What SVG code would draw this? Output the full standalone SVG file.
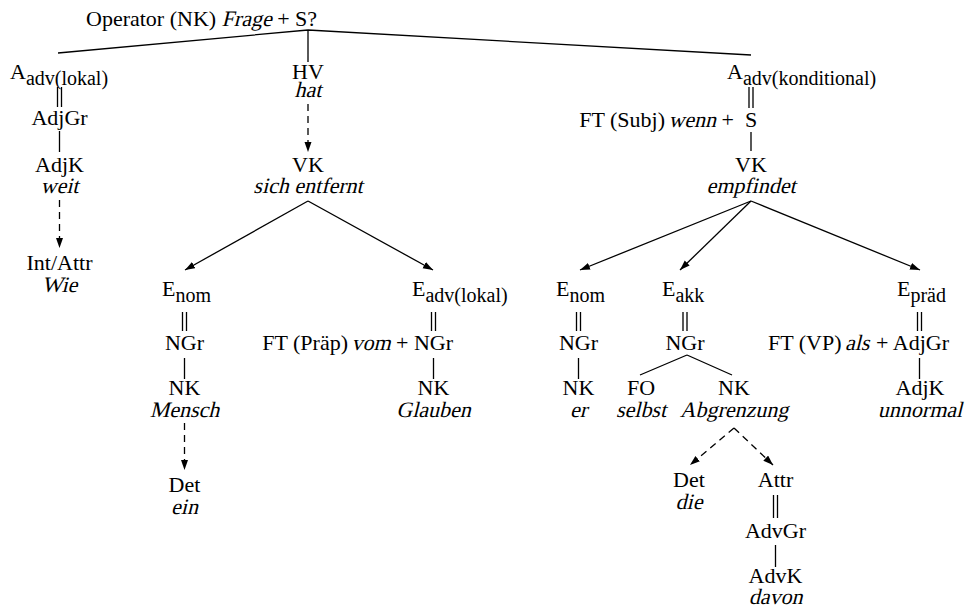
<svg xmlns="http://www.w3.org/2000/svg" width="968" height="609" viewBox="0 0 968 609">
  <style>
    text { font-family: "Liberation Serif", "Times New Roman", serif; font-size: 22px; fill: #000; }
    .c { text-anchor: middle; }
    .e { text-anchor: end; }
    .sub { font-size: 20px; }
    .ln { stroke: #000; stroke-width: 1.3; fill: none; }
    .ds { stroke: #000; stroke-width: 1.3; fill: none; stroke-dasharray: 7 5; }
    .ar { marker-end: url(#tip); }
  </style>
  <defs>
    <marker id="tip" markerUnits="userSpaceOnUse" markerWidth="11" markerHeight="8" refX="10" refY="3.5" orient="auto">
      <path d="M0,0 L10,3.5 L0,7 z" fill="#000"/>
    </marker>
  </defs>

  <!-- connectors -->
  <g id="connectors">
    <!-- root fan -->
    <path class="ln" d="M308,30 L58,53 M308,30 L751,55 M308,30 L308,62"/>
    <!-- left column -->
    <path class="ln" d="M57.5,87 V107 M61.5,87 V107 M59.5,131 V152"/>
    <path class="ds ar" d="M59.5,200 V248"/>
    <!-- HV / VK -->
    <path class="ds ar" d="M308,104 V152"/>
    <path class="ln ar" d="M308,201 L185,270"/>
    <path class="ln ar" d="M308,201 L433,270"/>
    <!-- E_nom (left) -->
    <path class="ln" d="M182.5,312 V331 M186.5,312 V331 M184.5,358 V379"/>
    <path class="ds ar" d="M184.5,423 V470"/>
    <!-- E_adv(lokal) -->
    <path class="ln" d="M431.5,312 V331 M435.5,312 V331 M433.5,358 V379"/>
    <!-- A_adv(konditional) -->
    <path class="ln" d="M749,87 V108 M753,87 V108 M751,132 V151"/>
    <path class="ln ar" d="M751,201 L580,270"/>
    <path class="ln ar" d="M751,201 L680,270"/>
    <path class="ln ar" d="M751,201 L920,270"/>
    <!-- E_nom (right) -->
    <path class="ln" d="M576.5,312 V331 M580.5,312 V331 M578.5,358 V379"/>
    <!-- E_akk -->
    <path class="ln" d="M683,312 V331 M687,312 V331"/>
    <path class="ln" d="M687,355 L640,375 M687,355 L732,375"/>
    <path class="ds ar" d="M734,428 L690,465"/>
    <path class="ds ar" d="M734,428 L773,465"/>
    <path class="ln" d="M773.5,495 V518 M777.5,495 V518 M775.5,545 V567"/>
    <!-- E_praed -->
    <path class="ln" d="M917.5,312 V331 M921.5,312 V331 M919.5,358 V379"/>
  </g>

  <!-- italic words are slanted copies of the roman face -->
  <g id="root">
    <text x="86" y="26">Operator (NK)</text>
    <text transform="translate(221.6,26) skewX(-14)">Frage</text>
    <text x="277.2" y="26">+ S?</text>
  </g>

  <g id="a-lokal">
    <text x="10" y="79">A<tspan class="sub" dy="6">adv(lokal)</tspan></text>
  </g>
  <g id="adjgr-1"><text class="c" x="59.5" y="125">AdjGr</text></g>
  <g id="adjk-1">
    <text class="c" x="59.5" y="172">AdjK</text>
    <text class="c" transform="translate(59.5,193) skewX(-14)">weit</text>
  </g>
  <g id="int-attr">
    <text class="c" x="59.5" y="270">Int/Attr</text>
    <text class="c" transform="translate(59.5,292) skewX(-14)">Wie</text>
  </g>

  <g id="hv">
    <text class="c" x="308" y="79">HV</text>
    <text class="c" transform="translate(308,97) skewX(-14)">hat</text>
  </g>
  <g id="vk-1">
    <text class="c" x="308" y="172">VK</text>
    <text class="c" transform="translate(308,193) skewX(-14)">sich entfernt</text>
  </g>

  <g id="e-nom-1">
    <text x="162" y="296">E<tspan class="sub" dy="6">nom</tspan></text>
  </g>
  <g id="ngr-1"><text class="c" x="184.5" y="350">NGr</text></g>
  <g id="nk-1">
    <text class="c" x="184.5" y="395">NK</text>
    <text class="c" transform="translate(184.5,417) skewX(-14)">Mensch</text>
  </g>
  <g id="det-1">
    <text class="c" x="184.5" y="492">Det</text>
    <text class="c" transform="translate(184.5,514) skewX(-14)">ein</text>
  </g>

  <g id="e-adv-lokal">
    <text x="412" y="296">E<tspan class="sub" dy="6">adv(lokal)</tspan></text>
  </g>
  <g id="ngr-2">
    <text class="e" x="348" y="350">FT (Präp)</text>
    <text transform="translate(351.4,350) skewX(-14)">vom</text>
    <text class="e" x="453" y="350">+ NGr</text>
  </g>
  <g id="nk-2">
    <text class="c" x="433.5" y="395">NK</text>
    <text class="c" transform="translate(433.5,417) skewX(-14)">Glauben</text>
  </g>

  <g id="a-kond">
    <text x="727" y="79">A<tspan class="sub" dy="6">adv(konditional)</tspan></text>
  </g>
  <g id="s">
    <text class="e" x="665" y="127">FT (Subj)</text>
    <text transform="translate(668.4,127) skewX(-14)">wenn</text>
    <text class="e" x="734" y="127">+</text>
    <text class="c" x="751" y="127">S</text>
  </g>
  <g id="vk-2">
    <text class="c" x="751" y="172">VK</text>
    <text class="c" transform="translate(751,193) skewX(-14)">empfindet</text>
  </g>

  <g id="e-nom-2">
    <text x="556" y="296">E<tspan class="sub" dy="6">nom</tspan></text>
  </g>
  <g id="ngr-3"><text class="c" x="578.5" y="350">NGr</text></g>
  <g id="nk-3">
    <text class="c" x="578.5" y="395">NK</text>
    <text class="c" transform="translate(578.5,417) skewX(-14)">er</text>
  </g>

  <g id="e-akk">
    <text x="662" y="296">E<tspan class="sub" dy="6">akk</tspan></text>
  </g>
  <g id="ngr-4"><text class="c" x="685" y="350">NGr</text></g>
  <g id="fo">
    <text class="c" x="641" y="395">FO</text>
    <text class="c" transform="translate(641,417) skewX(-14)">selbst</text>
  </g>
  <g id="nk-4">
    <text class="c" x="734" y="395">NK</text>
    <text class="c" transform="translate(734,417) skewX(-14)">Abgrenzung</text>
  </g>
  <g id="det-2">
    <text class="c" x="689" y="487">Det</text>
    <text class="c" transform="translate(689,509) skewX(-14)">die</text>
  </g>
  <g id="attr">
    <text class="c" x="775.5" y="487">Attr</text>
  </g>
  <g id="advgr"><text class="c" x="775.5" y="538">AdvGr</text></g>
  <g id="advk">
    <text class="c" x="775.5" y="583">AdvK</text>
    <text class="c" transform="translate(775.5,604) skewX(-14)">davon</text>
  </g>

  <g id="e-praed">
    <text x="897" y="296">E<tspan class="sub" dy="6">präd</tspan></text>
  </g>
  <g id="adjgr-2">
    <text class="e" x="841.5" y="350">FT (VP)</text>
    <text transform="translate(845,350) skewX(-14)">als</text>
    <text class="e" x="949" y="350">+ AdjGr</text>
  </g>
  <g id="adjk-2">
    <text class="c" x="920" y="395">AdjK</text>
    <text class="c" transform="translate(920,417) skewX(-14)">unnormal</text>
  </g>
</svg>
